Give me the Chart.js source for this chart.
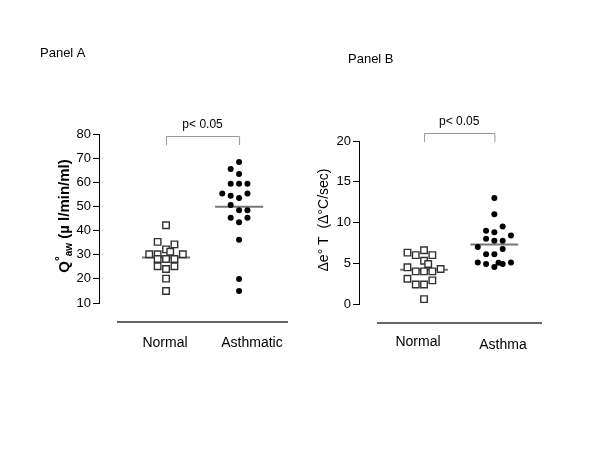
<!DOCTYPE html>
<html>
<head>
<meta charset="utf-8">
<script src="https://cdn.jsdelivr.net/npm/chart.js@4.4.1/dist/chart.umd.min.js"></script>
<style>
  body { margin: 0; background: #fff; }
  #wrap { position: relative; width: 600px; height: 450px; }
  canvas { position: absolute; top: 0; }
</style>
</head>
<body>
<div id="wrap">
  <canvas id="panelA" width="300" height="450" style="left:0"></canvas>
  <canvas id="panelB" width="300" height="450" style="left:300px"></canvas>
</div>
<script>
// Panel A - Q°aw values
const categoriesA = ['Normal', 'Asthmatic'];
const normalA = [42.2, 35.3, 34.3, 32.2, 31.2, 30.2, 30.2, 30.2, 28.2, 28.2, 28.2, 25.2, 25.2, 24.1, 20.1, 15.0];
const normalASlot = [0, -1, 1, 0, 0.5, -2, -1, 2, -1, 0, 1, -1, 1, 0, 0, 0];
const asthmaA = [68.4, 65.5, 63.4, 59.4, 59.4, 59.4, 55.4, 55.4, 54.4, 53.5, 50.6, 48.4, 48.4, 45.3, 45.3, 43.4, 36.2, 19.9, 15.0];
const asthmaASlot = [0, -1, 0, -1, 0, 1, -2, 1, -1, 0, -1, 0, 1, -1, 1, 0, 0, 0, 0];
const meanA = [28.8, 49.9];

// Panel B - Δe°T values
const categoriesB = ['Normal', 'Asthma'];
const normalB = [6.3, 6.0, 6.6, 6.0, 5.3, 4.9, 4.5, 4.3, 4.0, 4.0, 4.0, 3.1, 2.4, 2.4, 2.9, 0.6];
const normalBSlot = [-2, -1, 0, 1, 0, 0.5, -2, 2, -1, 0, 1, -2, -1, 0, 1, 0];
const asthmaB = [13.0, 11.0, 9.5, 9.0, 8.4, 8.8, 8.0, 7.75, 7.75, 7.0, 6.75, 6.1, 6.1, 5.1, 4.9, 4.55, 5.05, 4.9, 5.1];
const asthmaBSlot = [0, 0, 1, -1, 2, 0, -1, 0, 1, -2, 1, -1, 0, -2, -1, 0, 0.5, 1, 2];
const meanB = [4.2, 7.3];

const FONT = 'Arial, "Liberation Sans", sans-serif';

function pts(center, vals, slots, step) {
    return vals.map((v, i) => ({x: center + slots[i] * step, y: v}));
}

function meanLine(center, v, half) {
    return [{x: center - half, y: v}, {x: center + half, y: v}];
}

// rotated axis title made of pieces (for sub/superscripts)
function drawRotated(ctx, cx, cy, pieces) {
    ctx.save();
    ctx.translate(cx, cy);
    ctx.rotate(-Math.PI / 2);
    ctx.textBaseline = 'middle';
    ctx.textAlign = 'left';
    ctx.fillStyle = '#000';
    let total = 0;
    pieces.forEach(p => { ctx.font = p.font; p.w = ctx.measureText(p.text).width; total += p.w; });
    let x = -total / 2;
    pieces.forEach(p => { ctx.font = p.font; ctx.fillText(p.text, x, p.dy || 0); x += p.w; });
    ctx.restore();
}

function makePanel(id, c) {
    const decor = {
        id: 'decor' + id,
        afterDraw(chart) {
            const ctx = chart.ctx;
            const xs = chart.scales.x;
            ctx.save();
            ctx.fillStyle = '#000';
            ctx.font = '13px ' + FONT;
            ctx.textAlign = 'left';
            ctx.textBaseline = 'middle';
            ctx.fillText(c.title, c.titlePos[0], c.titlePos[1]);

            // p-value bracket
            const x1 = xs.getPixelForValue(1), x2 = xs.getPixelForValue(2);
            const yt = c.bracketTop, yb = c.bracketTop + 9;
            ctx.strokeStyle = '#999';
            ctx.lineWidth = 1;
            ctx.beginPath();
            ctx.moveTo(x1 + 0.5, yb); ctx.lineTo(x1 + 0.5, yt + 0.5);
            ctx.lineTo(x2 + 0.5, yt + 0.5); ctx.lineTo(x2 + 0.5, yb);
            ctx.stroke();
            ctx.font = '12px ' + FONT;
            ctx.textAlign = 'center';
            ctx.fillText('p< 0.05', (x1 + x2) / 2, yt - 11);

            // baseline under the groups
            ctx.strokeStyle = '#333';
            ctx.lineWidth = 1.5;
            ctx.beginPath();
            ctx.moveTo(c.base[0], c.base[2]);
            ctx.lineTo(c.base[1], c.base[2]);
            ctx.stroke();

            // category labels
            ctx.font = '14px ' + FONT;
            c.labels.forEach((t, i) => ctx.fillText(t, c.labelPos[i][0], c.labelPos[i][1]));

            drawRotated(ctx, c.yTitlePos[0], c.yTitlePos[1], c.yTitle);
            ctx.restore();
        }
    };

    new Chart(document.getElementById(id), {
        type: 'scatter',
        data: {
            datasets: [
                {data: pts(1, c.normal, c.normalSlot, c.step), pointStyle: 'rect', pointRadius: 4.6,
                 backgroundColor: '#fff', borderColor: '#333', borderWidth: 1.4},
                {data: pts(2, c.asthma, c.asthmaSlot, c.step), pointStyle: 'circle', pointRadius: 3,
                 backgroundColor: '#000', borderColor: '#000', borderWidth: 0},
                {type: 'line', data: meanLine(1, c.mean[0], c.half), borderColor: '#777', borderWidth: 2, pointRadius: 0},
                {type: 'line', data: meanLine(2, c.mean[1], c.half), borderColor: '#777', borderWidth: 2, pointRadius: 0}
            ]
        },
        options: {
            responsive: false,
            animation: false,
            layout: {padding: c.padding},
            plugins: {legend: {display: false}, tooltip: {enabled: false}},
            scales: {
                x: {type: 'linear', display: false, min: c.xRange[0], max: c.xRange[1]},
                y: {
                    min: c.yRange[0], max: c.yRange[1],
                    ticks: {stepSize: c.yStep, color: '#000', padding: 2, font: {family: FONT, size: 13}},
                    grid: {drawOnChartArea: false, tickLength: 6, color: '#000'},
                    border: {color: '#000', width: 1},
                    afterFit(s) { s.width = c.axisX; }
                }
            }
        },
        plugins: [decor]
    });
}

makePanel('panelA', {
    normal: normalA, normalSlot: normalASlot, asthma: asthmaA, asthmaSlot: asthmaASlot, mean: meanA,
    labels: categoriesA, step: 0.115, half: 0.33,
    xRange: [0.082, 2.67], yRange: [10, 80], yStep: 10, axisX: 99,
    padding: {left: 0, top: 134, right: 12, bottom: 147},
    title: 'Panel A', titlePos: [40, 53],
    bracketTop: 136,
    base: [117, 288, 322],
    labelPos: [[165, 343], [252, 343]],
    yTitlePos: [65, 216],
    yTitle: [
        {text: 'Q', font: 'bold 15px ' + FONT},
        {text: '°', font: 'bold 12px ' + FONT, dy: -4},
        {text: 'aw', font: 'bold 10px ' + FONT, dy: 4},
        {text: ' (µ l/min/ml)', font: 'bold 15px ' + FONT}
    ]
});

makePanel('panelB', {
    normal: normalB, normalSlot: normalBSlot, asthma: asthmaB, asthmaSlot: asthmaBSlot, mean: meanB,
    labels: categoriesB, step: 0.118, half: 0.34,
    xRange: [0.075, 2.72], yRange: [0, 20], yStep: 5, axisX: 59,
    padding: {left: 0, top: 141, right: 55, bottom: 146},
    title: 'Panel B', titlePos: [48, 59],
    bracketTop: 133,
    base: [77, 242, 323],
    labelPos: [[118, 342], [203, 345]],
    yTitlePos: [24, 220],
    yTitle: [
        {text: 'Δe° T  (Δ°C/sec)', font: '14px ' + FONT}
    ]
});
</script>
</body>
</html>
